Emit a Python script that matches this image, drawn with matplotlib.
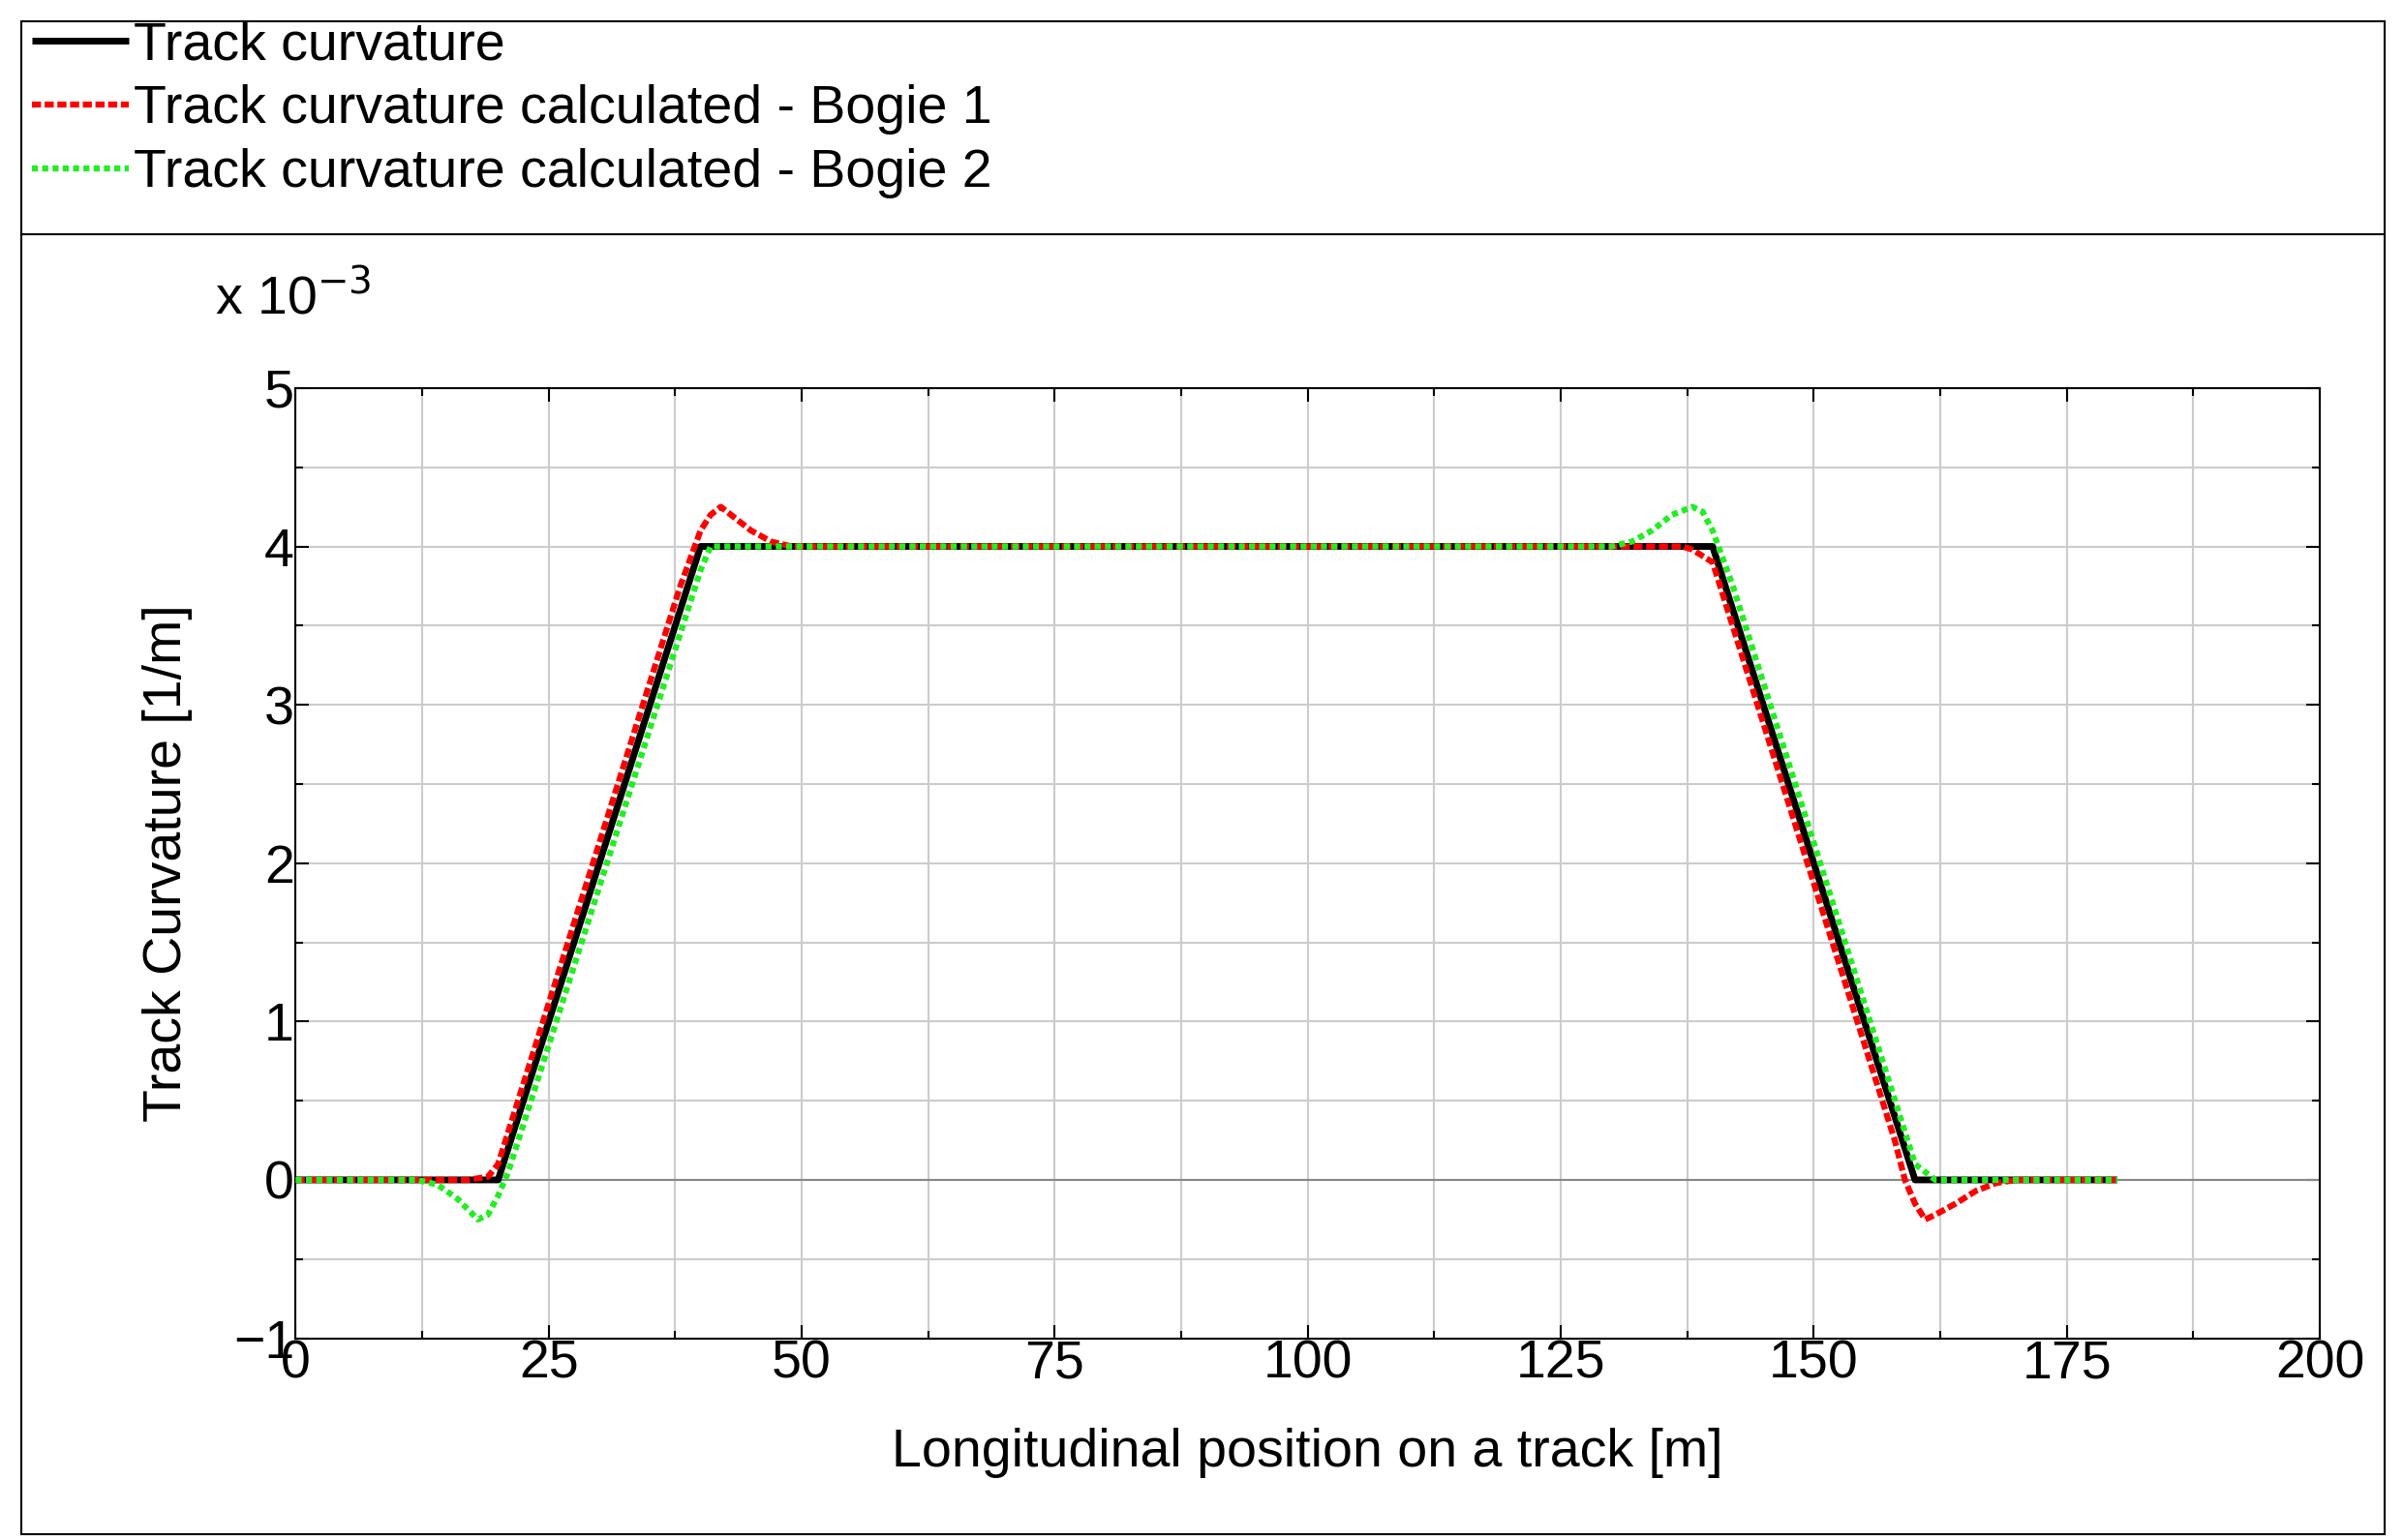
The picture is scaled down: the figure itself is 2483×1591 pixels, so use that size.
import matplotlib
matplotlib.use("Agg")
import matplotlib.pyplot as plt
from matplotlib.ticker import MultipleLocator

plt.rcParams['font.family'] = ['Liberation Sans', 'DejaVu Sans']

track_x = [0, 20, 40, 140, 160, 180]
track_y = [0, 0, 4, 4, 0, 0]

bogie1_x = [0, 12, 17, 19, 20, 38, 40, 41, 42, 43, 45, 47, 49, 135, 137, 138, 140, 158, 159, 160, 161, 162, 164, 166, 168, 170, 180]
bogie1_y = [0, 0, 0, 0.02, 0.1, 3.75, 4.1, 4.2, 4.25, 4.2, 4.1, 4.03, 4.0, 4.0, 4.0, 3.98, 3.9, 0.25, 0.0, -0.15, -0.25, -0.22, -0.15, -0.07, -0.02, 0, 0]

bogie2_x = [0, 10, 12, 14, 16, 18, 19, 20, 21, 22, 40, 41, 42, 130, 132, 134, 136, 138, 139, 140, 142, 160, 162, 180]
bogie2_y = [0, 0, 0, -0.03, -0.12, -0.25, -0.22, -0.1, 0.05, 0.25, 3.85, 4.0, 4.0, 4.0, 4.03, 4.1, 4.2, 4.25, 4.22, 4.1, 3.75, 0.1, 0.0, 0]

fig = plt.figure(figsize=(24.83, 15.91), dpi=100)
fig.patches.append(plt.Rectangle((0.009, 0.004), 0.983, 0.982, transform=fig.transFigure, fill=False, lw=1.5, ec='black'))
fig.lines.append(plt.Line2D([0.009, 0.992], [0.848, 0.848], transform=fig.transFigure, color='black', lw=1.5))

ax = fig.add_axes([0.123, 0.131, 0.842, 0.617])
ax.axhline(0, color='#888888', lw=1.5, zorder=1)
ax.plot(track_x, track_y, color='black', lw=5, solid_capstyle='butt', zorder=3, label='Track curvature')
ax.plot(bogie1_x, bogie1_y, color='red', lw=4.5, ls=(0, (1.5, 0.6)), zorder=4, label='Track curvature calculated - Bogie 1')
ax.plot(bogie2_x, bogie2_y, color='#22ee22', lw=4.5, ls=(0, (1.0, 0.7)), zorder=5, label='Track curvature calculated - Bogie 2')

ax.set_xlim(0, 200)
ax.set_ylim(-1, 5)
ax.xaxis.set_major_locator(MultipleLocator(25))
ax.xaxis.set_minor_locator(MultipleLocator(12.5))
ax.yaxis.set_major_locator(MultipleLocator(1))
ax.yaxis.set_minor_locator(MultipleLocator(0.5))
ax.grid(True, which='both', color='#cccccc', lw=1.5)
ax.tick_params(which='both', direction='in', labelsize=40, width=1.5, top=True, right=True)
ax.tick_params(which='major', length=10, pad=1)
ax.tick_params(which='minor', length=6)
ax.set_axisbelow(True)
for s in ax.spines.values():
    s.set_linewidth(1.5)
ax.set_xlabel('Longitudinal position on a track [m]', fontsize=40, labelpad=28)
ax.set_ylabel('Track Curvature [1/m]', fontsize=40, labelpad=30)
ax.text(-0.04, 1.065, r'x 10$^{-3}$', transform=ax.transAxes, fontsize=40, ha='left', va='bottom')

h, l = ax.get_legend_handles_labels()
fig.legend(h, l, loc='upper left', bbox_to_anchor=(0.011, 0.99), frameon=False, fontsize=40,
           handlelength=1.8, handletextpad=0.1, labelspacing=0.25, borderaxespad=0, borderpad=0.1)

fig.savefig('out.png', dpi=100)
